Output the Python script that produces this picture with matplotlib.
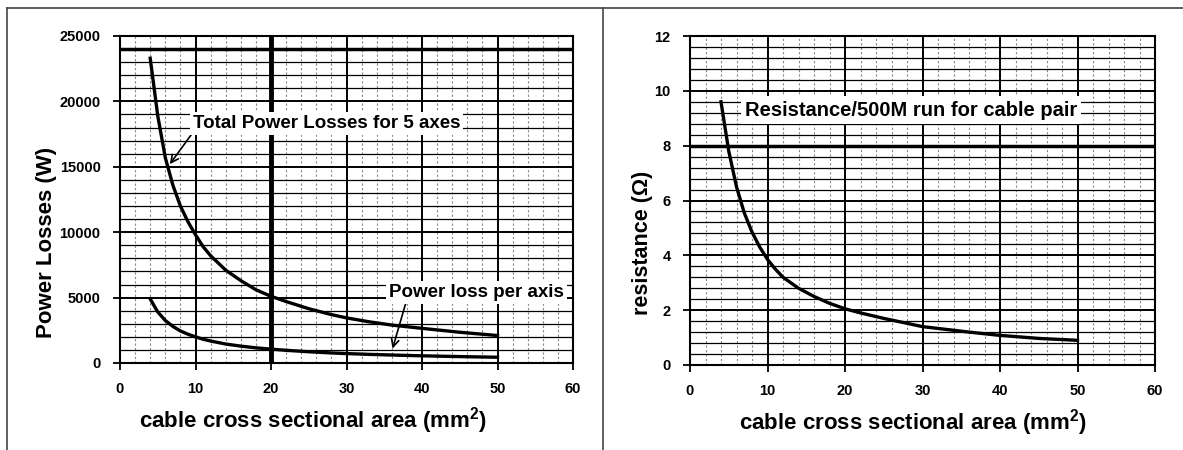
import numpy as np
import matplotlib.pyplot as plt
from matplotlib.lines import Line2D
from matplotlib.ticker import MultipleLocator

plt.rcParams['font.family'] = ['Liberation Sans', 'DejaVu Sans']
plt.rcParams['mathtext.fontset'] = 'custom'
plt.rcParams['mathtext.rm'] = 'Liberation Sans:bold'
plt.rcParams['mathtext.bf'] = 'Liberation Sans:bold'

# data
area = [4, 5, 6, 7, 8, 9, 10, 11, 12, 14, 16, 18, 20, 22, 25, 28, 30, 33, 36, 40, 45, 50]
total_loss = [23300, 18900, 15700, 13600, 12000, 10800, 9800, 8900, 8200, 7100, 6300,
              5600, 5100, 4700, 4150, 3700, 3450, 3150, 2900, 2650, 2350, 2100]
axis_loss = [4900, 3900, 3250, 2800, 2450, 2200, 2000, 1820, 1680, 1450, 1290,
             1160, 1060, 970, 860, 770, 720, 660, 610, 550, 490, 440]
resistance = [9.6, 7.8, 6.5, 5.55, 4.85, 4.3, 3.85, 3.5, 3.2, 2.8, 2.5,
              2.25, 2.05, 1.9, 1.7, 1.52, 1.4, 1.3, 1.2, 1.08, 0.97, 0.9]

x_ticks = [0, 10, 20, 30, 40, 50, 60]
loss_ticks = [0, 5000, 10000, 15000, 20000, 25000]
res_ticks = [0, 2, 4, 6, 8, 10, 12]

xlabel = r'cable cross sectional area (mm$^{\mathbf{2}}$)'

W, H = 1183, 450
fig = plt.figure(figsize=(W / 100, H / 100), dpi=100)
fig.patch.set_facecolor('white')

# panel borders
bc = '#444444'
fig.add_artist(Line2D([7 / W, 7 / W], [0, 1 - 8 / H], color=bc, lw=1.2))
fig.add_artist(Line2D([7 / W, 1], [1 - 8 / H, 1 - 8 / H], color=bc, lw=1.2))
fig.add_artist(Line2D([603 / W, 603 / W], [0, 1 - 8 / H], color=bc, lw=1.2))

ax1 = fig.add_axes([120 / W, 1 - 363 / H, 453 / W, 327 / H])
ax2 = fig.add_axes([690 / W, 1 - 365 / H, 465 / W, 329 / H])


def style(ax, yticks, ystep):
    ax.set_xlim(0, 60)
    ax.set_ylim(yticks[0], yticks[-1])
    ax.set_xticks(x_ticks)
    ax.set_yticks(yticks)
    ax.xaxis.set_minor_locator(MultipleLocator(2))
    ax.yaxis.set_minor_locator(MultipleLocator(ystep / 5))
    ax.grid(which='major', color='black', lw=1.4)
    ax.grid(which='minor', axis='y', color='black', lw=0.9)
    ax.grid(which='minor', axis='x', color='#888888', lw=0.8, ls=(0, (2, 2)))
    ax.set_axisbelow(True)
    for s in ax.spines.values():
        s.set_linewidth(1.5)
    ax.tick_params(which='major', direction='out', length=5, width=1.3, labelsize=10.5, pad=9)
    ax.tick_params(which='minor', length=0)
    for lab in ax.get_xticklabels() + ax.get_yticklabels():
        lab.set_fontweight('bold')


# left: power losses
style(ax1, loss_ticks, 5000)
ax1.axvline(20, color='black', lw=3.5, zorder=1)
ax1.axhline(24000, color='black', lw=2.5, zorder=1)
ax1.plot(area, total_loss, color='black', lw=2.4, zorder=3)
ax1.plot(area, axis_loss, color='black', lw=2.4, zorder=3)
ax1.annotate('Total Power Losses for 5 axes', xy=(6.6, 15200), xytext=(27.4, 18300),
             ha='center', va='center', fontsize=13.5, fontweight='bold', zorder=4,
             bbox=dict(boxstyle='square,pad=0.15', fc='white', ec='none'),
             arrowprops=dict(arrowstyle='->', color='black', lw=1.2, shrinkA=0, shrinkB=0,
                             relpos=(0.0, 0.0)))
ax1.annotate('Power loss per axis', xy=(36.1, 1100), xytext=(47.2, 5400),
             ha='center', va='center', fontsize=13.5, fontweight='bold', zorder=4,
             bbox=dict(boxstyle='square,pad=0.15', fc='white', ec='none'),
             arrowprops=dict(arrowstyle='->', color='black', lw=1.2, shrinkA=0, shrinkB=0,
                             relpos=(0.1, 0.0)))
ax1.set_ylabel('Power Losses (W)', fontsize=16, fontweight='bold')
ax1.yaxis.set_label_coords(-0.14, 0.37)
ax1.set_xlabel(xlabel, fontsize=16, fontweight='bold')
ax1.xaxis.set_label_coords(0.425, -0.175)
ax1.xaxis.label.set_va('center')

# right: resistance
style(ax2, res_ticks, 2)
ax2.axhline(8, color='black', lw=2.5, zorder=1)
ax2.plot(area, resistance, color='black', lw=2.4, zorder=3)
ax2.text(28.5, 9.3, 'Resistance/500M run for cable pair', ha='center', va='center',
         fontsize=14.5, fontweight='bold', zorder=4,
         bbox=dict(boxstyle='square,pad=0.2', fc='white', ec='none'))
ax2.set_ylabel('resistance (\u03a9)', fontsize=15.5, fontweight='bold')
ax2.yaxis.set_label_coords(-0.08, 0.37)
ax2.set_xlabel(xlabel, fontsize=16, fontweight='bold')
ax2.xaxis.set_label_coords(0.48, -0.175)
ax2.xaxis.label.set_va('center')

fig.savefig('out.png', dpi=100)
